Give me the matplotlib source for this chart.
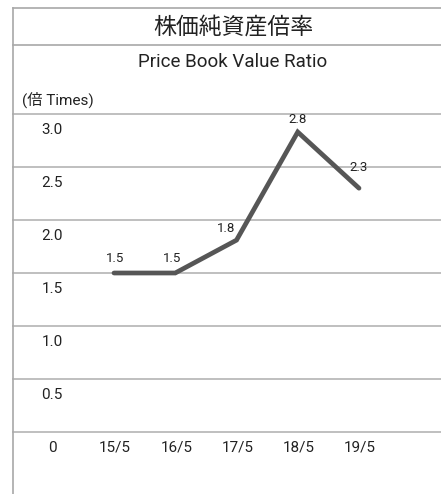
import matplotlib
matplotlib.use("Agg")
import matplotlib.pyplot as plt
from matplotlib import font_manager
from matplotlib.lines import Line2D
import matplotlib.transforms as mtransforms

categories = ["15/5", "16/5", "17/5", "18/5", "19/5"]
values = [1.5, 1.5, 1.81, 2.83, 2.3]
value_labels = ["1.5", "1.5", "1.8", "2.8", "2.3"]
y_ticks = [0, 0.5, 1.0, 1.5, 2.0, 2.5, 3.0]
y_tick_labels = ["0", "0.5", "1.0", "1.5", "2.0", "2.5", "3.0"]
title_jp = "株価純資産倍率"
title_en = "Price Book Value Ratio"
unit_label = "(倍 Times)"

names = {f.name for f in font_manager.fontManager.ttflist}
latin = "Liberation Sans Narrow" if "Liberation Sans Narrow" in names else "Roboto"
fam = [latin, "Noto Sans CJK JP", "DejaVu Sans"]
plt.rcParams['font.family'] = fam

W, H = 441, 494
dpi = 100
fig = plt.figure(figsize=(W / dpi, H / dpi), dpi=dpi)

def fx(px):
    return px / W

def fy(py):
    return (H - py) / H

# axes: 0 at y=432px, 3.0 at y=114px, x from 13 to 441
ax = fig.add_axes([fx(13), fy(432), fx(441) - fx(13), fy(114) - fy(432)])
step = 61.25
ax.set_xlim(-(114 - 13) / step, (441 - 114) / step)
ax.set_ylim(0, 3.0)
ax.axis("off")

grid_color = "#b4b4b4"
for t in y_ticks:
    ax.axhline(t, color=grid_color, lw=1.2, zorder=1, clip_on=False)

xs = list(range(len(categories)))
ax.plot(xs, values, color="#565656", lw=3.4, solid_joinstyle="miter",
        solid_capstyle="round", zorder=3, clip_on=False)

off = lambda dx, dy: mtransforms.ScaledTranslation(dx / dpi, dy / dpi, fig.dpi_scale_trans)

# y tick labels
ytr = mtransforms.blended_transform_factory(fig.transFigure, ax.transData)
for t, lab in zip(y_ticks, y_tick_labels):
    ax.text(fx(52), t, lab, transform=ytr + off(0, -16), ha="center", va="center",
            fontsize=11, color="#222222")

# x tick labels
for i, lab in zip(xs, categories):
    ax.text(i, 0, lab, transform=ax.transData + off(1, -15), ha="center", va="center",
            fontsize=11, color="#222222")

# data labels
label_offsets = [(1, 15), (-3, 15), (-10, 12), (0, 13), (0, 21)]
for i, (v, lab) in enumerate(zip(values, value_labels)):
    dx, dy = label_offsets[i]
    ax.text(i, v, lab, transform=ax.transData + off(dx, dy), ha="center", va="center",
            fontsize=9.5, color="#222222")

# frame lines
border = "#a8a8a8"
fig.add_artist(Line2D([fx(13), fx(13)], [fy(8), 0], transform=fig.transFigure, color=border, lw=1.2))
fig.add_artist(Line2D([fx(13), 1], [fy(8), fy(8)], transform=fig.transFigure, color=border, lw=1.2))
fig.add_artist(Line2D([fx(13), 1], [fy(45), fy(45)], transform=fig.transFigure, color=border, lw=1.2))

fig.text(fx(233), fy(27), title_jp, ha="center", va="center", fontsize=16.5, color="#222222")
fig.text(fx(233), fy(62), title_en, ha="center", va="center", fontsize=13.5, color="#222222")
fig.text(fx(22), fy(100), unit_label, ha="left", va="center", fontsize=11, color="#222222")

fig.savefig("out.png", dpi=dpi)
